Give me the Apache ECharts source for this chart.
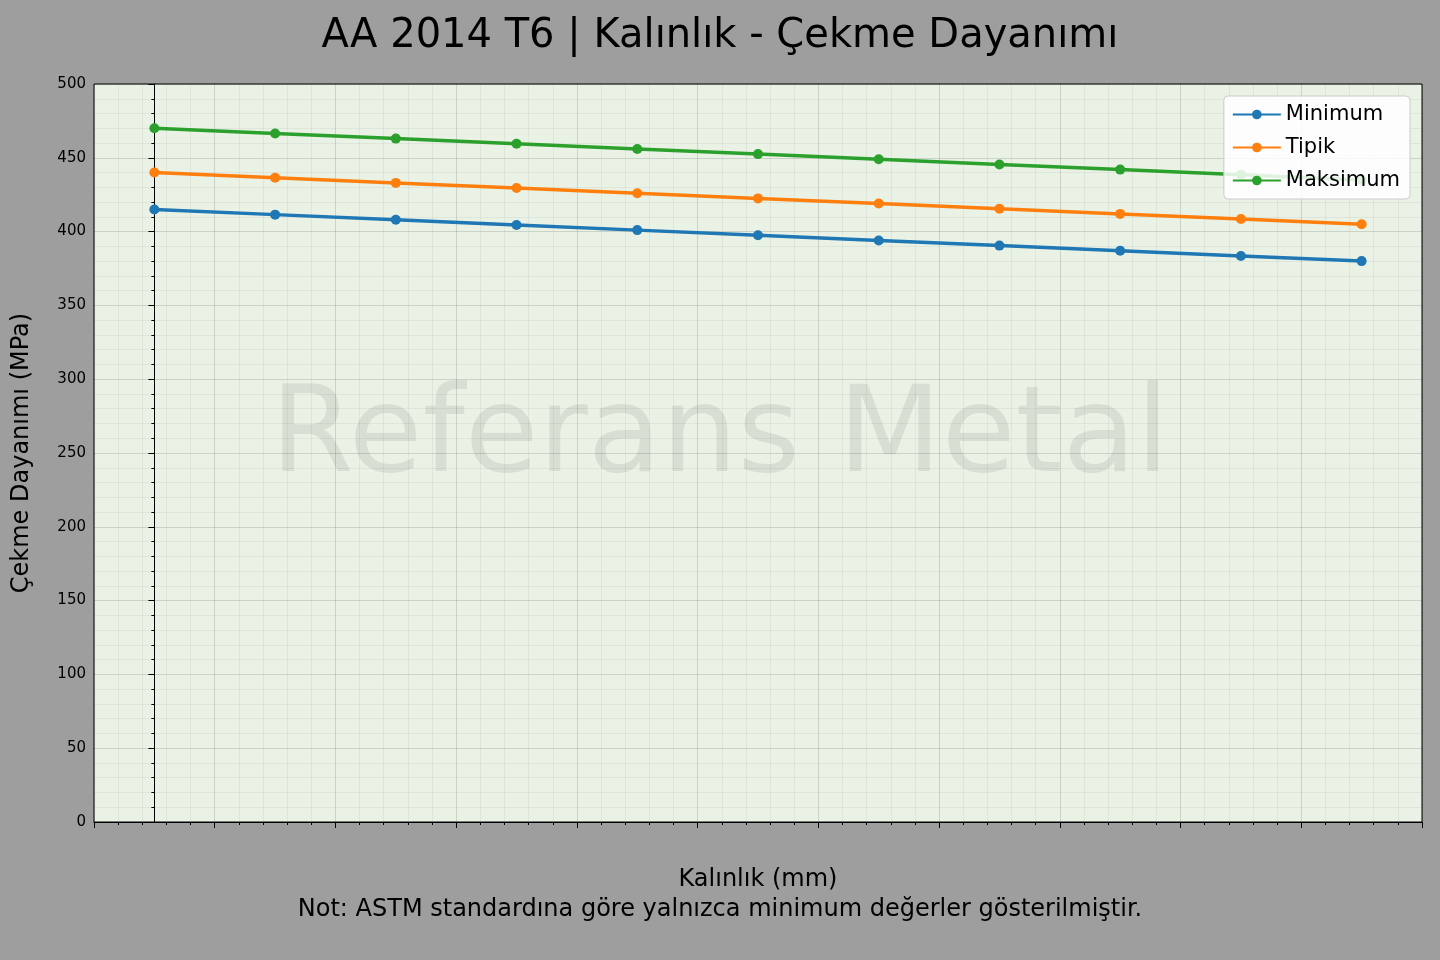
<!DOCTYPE html><html><head><meta charset="utf-8"><script src="https://cdn.jsdelivr.net/npm/echarts@6/dist/echarts.min.js"></script></head><body style="margin:0;background:#9e9e9e"><div id="c" style="width:1440px;height:960px"></div><script>
const thickness=[0,50,100,150,200,250,300,350,400,450,500];
const minimum=[415,411.5,408,404.5,401,397.5,394,390.5,387,383.5,380];
const tipik=[440,436.5,433,429.5,426,422.5,419,415.5,412,408.5,405];
const maksimum=[470,466.5,463,459.5,456,452.5,449,445.5,442,438.5,435];
const names=['Minimum','Tipik','Maksimum'];
const colors=['#1f77b4','#ff7f0e','#2ca02c'];
const F='DejaVu Sans';
const ch=echarts.init(document.getElementById('c'));
const mk=(n,d,i)=>({name:n,type:'line',data:thickness.map((x,j)=>[x,d[j]]),color:colors[i],symbol:'circle',symbolSize:10,lineStyle:{width:3.5},z:3});
ch.setOption({
backgroundColor:'#9e9e9e',animation:false,
title:{text:'AA 2014 T6 | Kalınlık - Çekme Dayanımı',left:'center',top:12,textStyle:{fontFamily:F,fontSize:40,fontWeight:'normal',color:'#000'}},
grid:{left:94,right:18,top:84,bottom:138,show:true,backgroundColor:'#eaf2e6',borderColor:'#000',borderWidth:1},
legend:{right:30,top:96,orient:'vertical',backgroundColor:'rgba(255,255,255,0.85)',borderColor:'#ccc',borderWidth:1,borderRadius:4,padding:[8,10,8,8],itemGap:12,itemWidth:48,itemHeight:12,textStyle:{fontFamily:F,fontSize:21,color:'#000'},data:names},
xAxis:{type:'value',min:-25,max:525,interval:50,name:'Kalınlık (mm)',nameLocation:'middle',nameGap:46,nameTextStyle:{fontFamily:F,fontSize:24,color:'#000'},
axisLine:{show:true,lineStyle:{color:'#000'}},axisTick:{show:true,length:6,lineStyle:{color:'#000'}},minorTick:{show:true,splitNumber:5,length:3,lineStyle:{color:'#000'}},
axisLabel:{fontFamily:F,fontSize:15,color:'#000',showMinLabel:false,showMaxLabel:false,formatter:v=>(v%50===0&&v>=0&&v<=500)?String(v):''},
splitLine:{show:true,lineStyle:{color:'rgba(0,0,0,0.13)'}},minorSplitLine:{show:true,lineStyle:{color:'rgba(0,0,0,0.05)'}}},
yAxis:{type:'value',min:0,max:500,interval:50,name:'Çekme Dayanımı (MPa)',nameLocation:'middle',nameGap:60,nameTextStyle:{fontFamily:F,fontSize:24,color:'#000'},
axisLine:{show:true,lineStyle:{color:'#000'}},axisTick:{show:true,length:6,lineStyle:{color:'#000'}},minorTick:{show:true,splitNumber:5,length:3,lineStyle:{color:'#000'}},
axisLabel:{fontFamily:F,fontSize:15,color:'#000'},
splitLine:{show:true,lineStyle:{color:'rgba(0,0,0,0.13)'}},minorSplitLine:{show:true,lineStyle:{color:'rgba(0,0,0,0.05)'}}},
graphic:[
{type:'text',left:'center',top:380,style:{text:'Referans Metal',font:'120px "DejaVu Sans"',fill:'rgba(0,0,0,0.08)'},z:1},
{type:'text',left:'center',top:898,style:{text:'Not: ASTM standardına göre yalnızca minimum değerler gösterilmiştir.',font:'24px "DejaVu Sans"',fill:'#000'}}
],
series:[mk(names[0],minimum,0),mk(names[1],tipik,1),mk(names[2],maksimum,2)]
});
</script></body></html>
